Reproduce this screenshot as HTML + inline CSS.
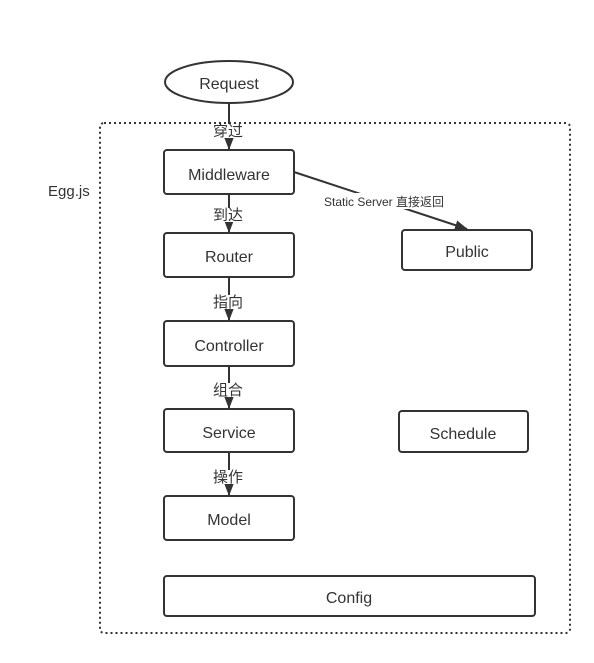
<!DOCTYPE html>
<html><head><meta charset="utf-8"><style>
html,body{margin:0;padding:0;background:#fff;}
svg text{font-family:"Liberation Sans","Noto Sans CJK SC",sans-serif;fill:#333;}
</style></head><body>
<svg width="594" height="658" viewBox="0 0 594 658" xmlns="http://www.w3.org/2000/svg">
<defs><marker id="a" markerWidth="14" markerHeight="12" refX="12" refY="6" orient="auto" markerUnits="userSpaceOnUse"><path d="M0,1 L13,6 L0,11 Z" fill="#333"/></marker></defs>
<rect x="100" y="123" width="470" height="510" rx="4" fill="none" stroke="#333" stroke-width="2" stroke-dasharray="2,3"/>
<text x="48" y="196" font-size="15">Egg.js</text>
<g stroke="#333" stroke-width="2" fill="#fff">
<ellipse cx="229" cy="82" rx="64" ry="21"/>
<rect x="164" y="150" width="130" height="44" rx="3"/>
<rect x="164" y="233" width="130" height="44" rx="3"/>
<rect x="164" y="321" width="130" height="45" rx="3"/>
<rect x="164" y="409" width="130" height="43" rx="3"/>
<rect x="164" y="496" width="130" height="44" rx="3"/>
<rect x="164" y="576" width="371" height="40" rx="3"/>
<rect x="402" y="230" width="130" height="40" rx="3"/>
<rect x="399" y="411" width="129" height="41" rx="3"/>
</g>
<g stroke="#333" stroke-width="2" fill="none" marker-end="url(#a)">
<line x1="229" y1="103" x2="229" y2="149"/>
<line x1="229" y1="194" x2="229" y2="232"/>
<line x1="229" y1="277" x2="229" y2="320"/>
<line x1="229" y1="366" x2="229" y2="408"/>
<line x1="229" y1="452" x2="229" y2="495"/>
<line x1="294" y1="172" x2="467" y2="229"/>
</g>
<g font-size="16" text-anchor="middle">
<text x="229" y="89">Request</text>
<text x="229" y="180">Middleware</text>
<text x="229" y="262">Router</text>
<text x="229" y="351">Controller</text>
<text x="229" y="438">Service</text>
<text x="229" y="525">Model</text>
<text x="349" y="603">Config</text>
<text x="467" y="257">Public</text>
<text x="463" y="439">Schedule</text>
</g>
<g font-size="15" text-anchor="middle">
<rect x="211" y="124" width="34" height="14" fill="#fff"/>
<text x="228" y="136">穿过</text>
<rect x="211" y="208" width="34" height="14" fill="#fff"/>
<text x="228" y="220">到达</text>
<rect x="211" y="295" width="34" height="14" fill="#fff"/>
<text x="228" y="307">指向</text>
<rect x="211" y="383" width="34" height="14" fill="#fff"/>
<text x="228" y="395">组合</text>
<rect x="211" y="470" width="34" height="14" fill="#fff"/>
<text x="228" y="482">操作</text>
</g>
<rect x="316" y="193" width="136" height="16" fill="#fff"/>
<text x="384" y="206" font-size="12" text-anchor="middle">Static Server 直接返回</text>
</svg>
</body></html>
